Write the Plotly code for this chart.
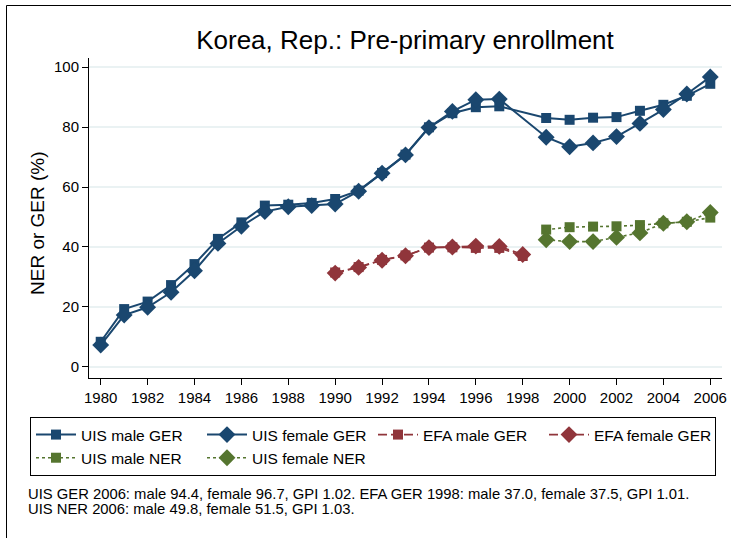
import plotly.graph_objects as go

# ---- data ----
uis_ger_years = [1980, 1981, 1982, 1983, 1984, 1985, 1986, 1987, 1988, 1989, 1990,
                 1991, 1992, 1993, 1994, 1995, 1996, 1997,
                 1999, 2000, 2001, 2002, 2003, 2004, 2005, 2006]
uis_male_ger = [8.4, 19.3, 21.8, 27.3, 34.3, 42.7, 48.2, 53.8, 54.1, 54.7, 56.0,
                58.8, 64.7, 70.8, 79.9, 84.6, 86.6, 86.9,
                83.0, 82.4, 83.1, 83.3, 85.4, 87.4, 90.4, 94.4]
uis_female_ger = [7.3, 17.3, 19.9, 24.9, 32.1, 41.2, 46.9, 51.8, 53.4, 53.8, 54.3,
                  58.6, 64.6, 70.7, 79.8, 85.2, 89.1, 89.3,
                  76.6, 73.4, 74.7, 76.8, 81.2, 85.8, 91.0, 96.7]

efa_years = [1990, 1991, 1992, 1993, 1994, 1995, 1996, 1997, 1998]
efa_male_ger = [31.5, 33.3, 35.7, 37.2, 39.8, 39.9, 39.7, 39.7, 37.0]
efa_female_ger = [31.3, 33.2, 35.6, 37.1, 39.8, 40.0, 40.3, 40.2, 37.5]

ner_years = [1999, 2000, 2001, 2002, 2003, 2004, 2005, 2006]
uis_male_ner = [45.8, 46.6, 46.8, 46.9, 47.3, 47.9, 48.4, 49.8]
uis_female_ner = [42.4, 41.8, 41.8, 43.2, 44.7, 47.9, 48.4, 51.5]

x_ticks = list(range(1980, 2007, 2))
y_ticks = [0, 20, 40, 60, 80, 100]

title_text = "Korea, Rep.: Pre-primary enrollment"
ytitle_text = "NER or GER (%)"
note_lines = [
    "UIS GER 2006: male 94.4, female 96.7, GPI 1.02. EFA GER 1998: male 37.0, female 37.5, GPI 1.01.",
    "UIS NER 2006: male 49.8, female 51.5, GPI 1.03.",
]

NAVY = "#1a476f"
MAROON = "#90353b"
GREEN = "#55752f"
FONT = "Liberation Sans, Arial, sans-serif"

W, H = 731, 538
ML, MR, MT, MB = 89, 9, 58, 160
PW, PH = W - ML - MR, H - MT - MB

def px_x(px):
    return (px - ML) / PW

def px_y(py):
    return (H - MB - py) / PH

fig = go.Figure()

series = [
    ("UIS male GER", uis_ger_years, uis_male_ger, NAVY, "solid", "square", 10, 2),
    ("UIS female GER", uis_ger_years, uis_female_ger, NAVY, "solid", "diamond", 13, 2),
    ("EFA male GER", efa_years, efa_male_ger, MAROON, "9px,4px", "square", 10, 1.6),
    ("EFA female GER", efa_years, efa_female_ger, MAROON, "9px,4px", "diamond", 13, 1.6),
    ("UIS male NER", ner_years, uis_male_ner, GREEN, "3px,3px", "square", 10, 1.6),
    ("UIS female NER", ner_years, uis_female_ner, GREEN, "3px,3px", "diamond", 13, 1.6),
]
for name, xs, ys, col, dash, sym, size, lw in series:
    fig.add_trace(go.Scatter(
        x=xs, y=ys, name=name, mode="lines+markers",
        line=dict(color=col, width=lw, dash=dash),
        marker=dict(symbol=sym, size=size, color=col, line=dict(width=0)),
    ))

annotations = [
    dict(text=ytitle_text, textangle=-90, x=px_x(37), y=px_y(223), xref="paper", yref="paper",
         showarrow=False, font=dict(family=FONT, size=19, color="black"),
         xanchor="center", yanchor="middle"),
]
for i, line in enumerate(note_lines):
    annotations.append(dict(
        text=line, x=px_x(26), y=px_y(494 + i * 15), xref="paper", yref="paper",
        showarrow=False, font=dict(family=FONT, size=14.8, color="black"),
        xanchor="left", yanchor="middle"))

shapes = [
    dict(type="rect", xref="paper", yref="paper",
         x0=px_x(6.5), x1=px_x(760), y0=px_y(560), y1=px_y(5.5),
         line=dict(color="black", width=1), fillcolor="rgba(0,0,0,0)", layer="below"),
]

fig.update_layout(
    width=W, height=H,
    margin=dict(l=ML, r=MR, t=MT, b=MB, autoexpand=False),
    paper_bgcolor="white", plot_bgcolor="white",
    font=dict(family=FONT, size=15, color="black"),
    title=dict(text=title_text, x=px_x(405), xref="paper", xanchor="center",
               y=1 - 40 / H, yref="container", yanchor="middle",
               font=dict(family=FONT, size=26, color="black")),
    xaxis=dict(range=[1979.5, 2006.5], tickmode="array", tickvals=x_ticks,
               showgrid=False, zeroline=False, showline=True, linecolor="black", linewidth=1,
               ticks="outside", ticklen=6, tickcolor="black", tickfont=dict(size=15)),
    yaxis=dict(range=[-3.67, 103.0], tickmode="array", tickvals=y_ticks,
               showgrid=True, gridcolor="#eaf2f3", gridwidth=1.5, zeroline=False,
               showline=True, linecolor="black", linewidth=1,
               ticks="outside", ticklen=6, tickcolor="black", tickfont=dict(size=15)),
    showlegend=True,
    legend=dict(orientation="h", xref="paper", yref="paper",
                x=px_x(30), y=px_y(417), xanchor="left", yanchor="top",
                bordercolor="black", borderwidth=1, bgcolor="white",
                entrywidth=116, entrywidthmode="pixels",
                font=dict(family=FONT, size=15.5, color="black"),
                itemwidth=40, tracegroupgap=0),
    annotations=annotations,
    shapes=shapes,
)

fig.write_html("out.html", config={"displayModeBar": False},
               post_script="document.body.style.margin='0';")
